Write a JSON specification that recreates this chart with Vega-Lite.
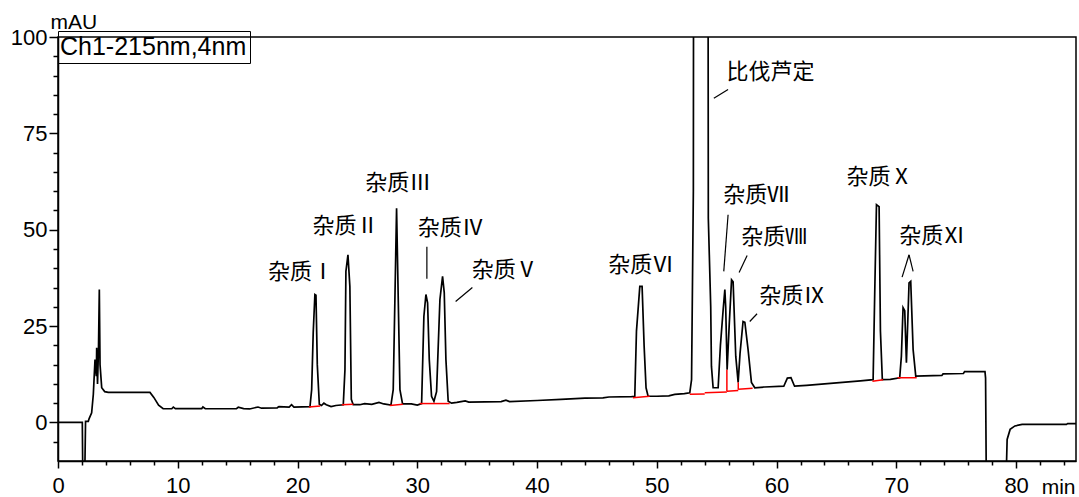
{
  "$schema": "https://vega.github.io/schema/vega-lite/v6.json",
  "width": 1018,
  "height": 424,
  "autosize": "none",
  "padding": {"left": 58, "top": 37, "right": 3, "bottom": 36},
  "background": "white",
  "config": {
    "view": {"stroke": "black", "strokeWidth": 1.5},
    "axis": {
      "labelFont": "Liberation Sans",
      "labelFontSize": 22,
      "labelColor": "black",
      "labelOverlap": false,
      "labelFlush": false,
      "labelBound": false,
      "titleFont": "Liberation Sans",
      "titleFontSize": 21,
      "titleFontWeight": "normal",
      "titleColor": "black",
      "domainColor": "black",
      "domainWidth": 1.5,
      "tickColor": "black",
      "tickWidth": 1.5,
      "grid": false
    }
  },
  "resolve": {"axis": {"x": "independent", "y": "independent"}},
  "datasets": {
    "trace": [
      {"t": 0, "v": 0}, {"t": 2.03, "v": 0}, {"t": 2.06, "v": -10.5}, {"t": 2.25, "v": -10.5}, {"t": 2.3, "v": 0.3},
      {"t": 2.53, "v": 0.3}, {"t": 2.6, "v": 1.0}, {"t": 2.81, "v": 2.5}, {"t": 2.95, "v": 7.3}, {"t": 3.09, "v": 16.3},
      {"t": 3.2, "v": 12}, {"t": 3.23, "v": 19.4}, {"t": 3.3, "v": 10}, {"t": 3.38, "v": 19}, {"t": 3.45, "v": 34.5},
      {"t": 3.51, "v": 15}, {"t": 3.65, "v": 9}, {"t": 3.9, "v": 8.0}, {"t": 4.2, "v": 7.8}, {"t": 7.68, "v": 7.8},
      {"t": 8.0, "v": 6.5}, {"t": 8.4, "v": 4.5}, {"t": 8.78, "v": 3.55}, {"t": 9.5, "v": 3.55}, {"t": 9.63, "v": 4.0},
      {"t": 9.8, "v": 3.6}, {"t": 12.0, "v": 3.6}, {"t": 12.1, "v": 4.0}, {"t": 12.3, "v": 3.55}, {"t": 14.9, "v": 3.6},
      {"t": 15.05, "v": 3.95}, {"t": 15.5, "v": 3.6}, {"t": 16.0, "v": 3.5}, {"t": 16.7, "v": 4.0}, {"t": 17.0, "v": 3.7},
      {"t": 18.3, "v": 3.8}, {"t": 18.45, "v": 4.1}, {"t": 19.3, "v": 4.0}, {"t": 19.5, "v": 4.6}, {"t": 19.7, "v": 4.0},
      {"t": 21.04, "v": 4.1}, {"t": 21.18, "v": 8.5}, {"t": 21.31, "v": 23.3}, {"t": 21.45, "v": 33.2}, {"t": 21.54, "v": 33.0},
      {"t": 21.65, "v": 15}, {"t": 21.82, "v": 4.7}, {"t": 22.0, "v": 4.4}, {"t": 22.2, "v": 5.0}, {"t": 22.4, "v": 4.6},
      {"t": 22.8, "v": 4.1}, {"t": 23.2, "v": 4.4}, {"t": 23.82, "v": 4.6}, {"t": 23.96, "v": 13.7}, {"t": 24.04, "v": 39.2},
      {"t": 24.21, "v": 43.5}, {"t": 24.37, "v": 35.3}, {"t": 24.49, "v": 6}, {"t": 24.65, "v": 4.6}, {"t": 25.2, "v": 4.6},
      {"t": 25.6, "v": 4.9}, {"t": 26.2, "v": 4.7}, {"t": 26.8, "v": 5.2}, {"t": 27.2, "v": 4.8}, {"t": 27.8, "v": 4.5},
      {"t": 27.99, "v": 8.5}, {"t": 28.13, "v": 31.9}, {"t": 28.27, "v": 55.6}, {"t": 28.41, "v": 31.9}, {"t": 28.55, "v": 8.5},
      {"t": 28.77, "v": 4.8}, {"t": 29.5, "v": 4.8}, {"t": 30.0, "v": 4.5}, {"t": 30.36, "v": 4.9}, {"t": 30.55, "v": 27.5},
      {"t": 30.72, "v": 33.2}, {"t": 30.86, "v": 31}, {"t": 31.0, "v": 16.3}, {"t": 31.19, "v": 6.8}, {"t": 31.39, "v": 5.5},
      {"t": 31.61, "v": 8}, {"t": 31.89, "v": 31.9}, {"t": 32.11, "v": 37.9}, {"t": 32.25, "v": 33.7}, {"t": 32.39, "v": 16.3},
      {"t": 32.58, "v": 5.5}, {"t": 32.86, "v": 5.0}, {"t": 33.3, "v": 5.2}, {"t": 34.0, "v": 5.6}, {"t": 34.3, "v": 5.3},
      {"t": 37.0, "v": 5.4}, {"t": 37.4, "v": 5.8}, {"t": 37.7, "v": 5.4}, {"t": 40.0, "v": 5.7}, {"t": 42.0, "v": 6.0},
      {"t": 44.0, "v": 6.3}, {"t": 45.5, "v": 6.4}, {"t": 46.0, "v": 6.6}, {"t": 47.9, "v": 6.7}, {"t": 48.16, "v": 6.8},
      {"t": 48.3, "v": 23.7}, {"t": 48.58, "v": 35.3}, {"t": 48.77, "v": 35.3}, {"t": 48.94, "v": 19.8}, {"t": 49.1, "v": 9},
      {"t": 49.27, "v": 6.8}, {"t": 50.0, "v": 6.8}, {"t": 51.0, "v": 6.9}, {"t": 51.5, "v": 7.3}, {"t": 52.3, "v": 7.5},
      {"t": 52.75, "v": 7.7}, {"t": 52.9, "v": 11.1}, {"t": 53.05, "v": 60}, {"t": 53.12, "v": 300}, {"t": 54.22, "v": 300},
      {"t": 54.3, "v": 53}, {"t": 54.5, "v": 30}, {"t": 54.56, "v": 14.6}, {"t": 54.7, "v": 9}, {"t": 55.12, "v": 9},
      {"t": 55.31, "v": 20}, {"t": 55.54, "v": 29.3}, {"t": 55.68, "v": 34.5}, {"t": 55.75, "v": 30}, {"t": 55.87, "v": 13.7},
      {"t": 56.04, "v": 25}, {"t": 56.24, "v": 37}, {"t": 56.37, "v": 36.5}, {"t": 56.5, "v": 25}, {"t": 56.59, "v": 17.2},
      {"t": 56.79, "v": 10.4}, {"t": 56.95, "v": 18}, {"t": 57.2, "v": 26.2}, {"t": 57.35, "v": 26}, {"t": 57.62, "v": 18.9},
      {"t": 57.9, "v": 10.4}, {"t": 58.18, "v": 9}, {"t": 59.0, "v": 9.2}, {"t": 60.6, "v": 9.4}, {"t": 60.9, "v": 11.5},
      {"t": 61.2, "v": 11.6}, {"t": 61.5, "v": 9.4}, {"t": 62.5, "v": 9.6}, {"t": 64.0, "v": 10.0}, {"t": 65.5, "v": 10.4},
      {"t": 67.0, "v": 10.8}, {"t": 68.06, "v": 11.1}, {"t": 68.2, "v": 34.5}, {"t": 68.34, "v": 56.5}, {"t": 68.56, "v": 56},
      {"t": 68.67, "v": 23.7}, {"t": 68.83, "v": 11.1}, {"t": 69.5, "v": 11.2}, {"t": 70.28, "v": 11.6}, {"t": 70.42, "v": 17.2},
      {"t": 70.56, "v": 29.8}, {"t": 70.7, "v": 29}, {"t": 70.84, "v": 15.5}, {"t": 71.06, "v": 36.2}, {"t": 71.2, "v": 36.6},
      {"t": 71.4, "v": 18.9}, {"t": 71.62, "v": 12}, {"t": 73.8, "v": 12.2}, {"t": 73.9, "v": 12.6}, {"t": 75.6, "v": 12.7},
      {"t": 75.7, "v": 13.2}, {"t": 77.4, "v": 13.2}, {"t": 77.45, "v": 11.5}, {"t": 77.5, "v": -10.5}, {"t": 79.2, "v": -10.5},
      {"t": 79.25, "v": -4.4}, {"t": 79.5, "v": -1.8}, {"t": 79.9, "v": -0.9}, {"t": 80.5, "v": -0.5}, {"t": 84.2, "v": -0.5},
      {"t": 84.3, "v": -0.3}, {"t": 85, "v": -0.3}
    ],
    "base": [
      {"t1": 20.95, "v1": 4.0, "t2": 21.9, "v2": 4.3},
      {"t1": 23.7, "v1": 4.6, "t2": 24.65, "v2": 4.7},
      {"t1": 27.7, "v1": 4.4, "t2": 28.8, "v2": 4.7},
      {"t1": 30.2, "v1": 4.9, "t2": 32.7, "v2": 4.9},
      {"t1": 48.0, "v1": 6.4, "t2": 49.4, "v2": 6.8},
      {"t1": 52.75, "v1": 7.3, "t2": 54.0, "v2": 7.4},
      {"t1": 54.0, "v1": 7.7, "t2": 55.85, "v2": 7.9},
      {"t1": 55.85, "v1": 8.1, "t2": 55.85, "v2": 13.7},
      {"t1": 55.85, "v1": 8.1, "t2": 56.8, "v2": 8.3},
      {"t1": 56.8, "v1": 8.5, "t2": 56.8, "v2": 10.4},
      {"t1": 56.8, "v1": 8.6, "t2": 58.0, "v2": 8.9},
      {"t1": 68.0, "v1": 10.7, "t2": 68.9, "v2": 11.1},
      {"t1": 70.1, "v1": 11.6, "t2": 71.7, "v2": 11.6}
    ],
    "labels": [
      {"t": 20.3, "v": 39.1, "label": "杂质Ⅰ"},
      {"t": 24.0, "v": 51.0, "label": "杂质Ⅱ"},
      {"t": 28.4, "v": 62.2, "label": "杂质Ⅲ"},
      {"t": 32.8, "v": 50.5, "label": "杂质Ⅳ"},
      {"t": 37.3, "v": 39.6, "label": "杂质Ⅴ"},
      {"t": 48.7, "v": 40.9, "label": "杂质Ⅵ"},
      {"t": 59.5, "v": 90.9, "label": "比伐芦定"},
      {"t": 58.3, "v": 59.1, "label": "杂质Ⅶ"},
      {"t": 59.8, "v": 48.2, "label": "杂质Ⅷ"},
      {"t": 61.3, "v": 32.9, "label": "杂质Ⅸ"},
      {"t": 68.6, "v": 63.7, "label": "杂质Ⅹ"},
      {"t": 73.0, "v": 48.4, "label": "杂质Ⅺ"}
    ],
    "leaders": [
      {"t1": 30.8, "v1": 45.6, "t2": 30.8, "v2": 37.3},
      {"t1": 33.2, "v1": 31.4, "t2": 34.6, "v2": 35.0},
      {"t1": 54.76, "v1": 84.1, "t2": 55.95, "v2": 86.4},
      {"t1": 55.95, "v1": 53.9, "t2": 55.59, "v2": 39.2},
      {"t1": 57.54, "v1": 43.3, "t2": 56.87, "v2": 38.9},
      {"t1": 58.37, "v1": 28.2, "t2": 57.76, "v2": 26.2},
      {"t1": 70.48, "v1": 37.7, "t2": 71.06, "v2": 43.5},
      {"t1": 71.06, "v1": 43.5, "t2": 71.4, "v2": 39.2}
    ]
  },
  "layer": [
    {
      "data": {"name": "trace"},
      "mark": {"type": "line", "clip": true, "strokeWidth": 1.7, "interpolate": "linear"},
      "encoding": {
        "x": {
          "field": "t", "type": "quantitative", "title": "min",
          "scale": {"domain": [0, 85], "nice": false, "zero": false},
          "axis": {
            "orient": "bottom",
            "values": [0, 10, 20, 30, 40, 50, 60, 70, 80],
            "tickSize": 7,
            "labelPadding": 7,
            "titleAngle": 0, "titleAlign": "right", "titleBaseline": "alphabetic",
            "titleX": 1017, "titleY": 32
          }
        },
        "y": {
          "field": "v", "type": "quantitative", "title": "mAU",
          "scale": {"domain": [-10, 100], "nice": false, "zero": false},
          "axis": {
            "orient": "left",
            "values": [0, 25, 50, 75, 100],
            "tickSize": 9,
            "labelPadding": 2,
            "titleAngle": 0, "titleAlign": "left", "titleBaseline": "alphabetic",
            "titleX": -8, "titleY": -9
          }
        },
        "color": {
          "datum": "Ch1-215nm,4nm", "type": "nominal",
          "scale": {"range": ["black"]},
          "legend": {
            "title": null, "orient": "none", "legendX": 0, "legendY": -6,
            "strokeColor": "black", "padding": 3, "symbolType": "circle", "symbolSize": 0.01, "symbolStrokeWidth": 0,
            "symbolOpacity": 0, "labelOffset": -26, "labelFontSize": 25, "labelFont": "Liberation Sans",
            "labelColor": "black", "labelLimit": 400
          }
        }
      }
    },
    {
      "data": {"name": "base"},
      "mark": {"type": "rule", "color": "red", "strokeWidth": 1.5},
      "encoding": {
        "x": {
          "field": "t1", "type": "quantitative",
          "axis": {
            "orient": "bottom", "title": null, "labels": false, "domain": false, "tickSize": 4,
            "values": [2,4,6,8,12,14,16,18,22,24,26,28,32,34,36,38,42,44,46,48,52,54,56,58,62,64,66,68,72,74,76,78,82,84]
          }
        },
        "x2": {"field": "t2"},
        "y": {
          "field": "v1", "type": "quantitative",
          "axis": {
            "orient": "left", "title": null, "labels": false, "domain": false, "tickSize": 5,
            "values": [-5,5,10,15,20,30,35,40,45,55,60,65,70,80,85,90,95]
          }
        },
        "y2": {"field": "v2"}
      }
    },
    {
      "data": {"name": "leaders"},
      "mark": {"type": "rule", "color": "black", "strokeWidth": 1.2},
      "encoding": {
        "x": {"field": "t1", "type": "quantitative", "axis": null},
        "x2": {"field": "t2"},
        "y": {"field": "v1", "type": "quantitative", "axis": null},
        "y2": {"field": "v2"}
      }
    },
    {
      "data": {"name": "labels"},
      "mark": {"type": "text", "font": "Noto Sans CJK SC", "fontSize": 22, "align": "center", "baseline": "middle", "color": "black"},
      "encoding": {
        "x": {"field": "t", "type": "quantitative", "axis": null},
        "y": {"field": "v", "type": "quantitative", "axis": null},
        "text": {"field": "label"}
      }
    }
  ]
}
